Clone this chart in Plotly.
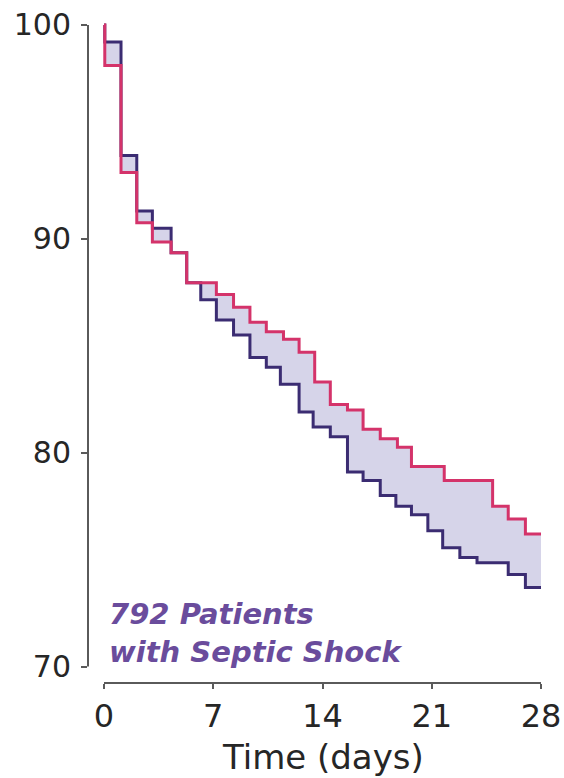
import plotly.graph_objects as go

# Kaplan-Meier style survival curves (percent alive)
blue_days = [0, 0.05, 1.09, 2.1, 3.1, 4.3, 5.3, 6.2, 7.2, 8.3, 9.35, 10.4, 11.3, 12.5,
             13.4, 14.5, 15.6, 16.6, 17.7, 18.7, 19.7, 20.75, 21.7, 22.8, 23.9, 25.9, 27.0, 28]
blue_surv = [100, 99.2, 93.9, 91.3, 90.5, 89.35, 87.95, 87.15, 86.2, 85.5, 84.45, 84.0, 83.2, 81.9,
             81.2, 80.75, 79.1, 78.7, 78.0, 77.5, 77.1, 76.35, 75.55, 75.1, 74.85, 74.3, 73.7, 73.7]

red_days = [0, 0.05, 1.09, 2.1, 3.1, 4.3, 5.3, 7.2, 8.3, 9.35, 10.4, 11.5, 12.5, 13.5,
            14.5, 15.6, 16.6, 17.7, 18.8, 19.7, 21.8, 24.9, 25.9, 27.0, 28]
red_surv = [100, 98.1, 93.1, 90.75, 89.85, 89.35, 87.95, 87.4, 86.8, 86.1, 85.65, 85.3, 84.7, 83.3,
            82.25, 82.0, 81.1, 80.65, 80.25, 79.35, 78.7, 77.5, 76.9, 76.2, 76.2]

x_ticks = [0, 7, 14, 21, 28]
y_ticks = [70, 80, 90, 100]
note_text = "792 Patients<br>with Septic Shock"
x_title = "Time (days)"

FONT = "DejaVu Sans, Liberation Sans, Arial, sans-serif"
AXIS_COLOR = "#5a5a5a"
TEXT_COLOR = "#262626"

fig = go.Figure()
fig.add_trace(go.Scatter(x=blue_days, y=blue_surv, mode="lines", line_shape="hv",
                         line=dict(color="#3b2c72", width=3), showlegend=False))
fig.add_trace(go.Scatter(x=red_days, y=red_surv, mode="lines", line_shape="hv",
                         line=dict(color="#d4336a", width=3), fill="tonexty",
                         fillcolor="#d6d4e9", showlegend=False))

fig.update_layout(
    width=564, height=778,
    margin=dict(l=88, r=18, t=22, b=95, autoexpand=False),
    paper_bgcolor="white", plot_bgcolor="white",
    font=dict(family=FONT, color=TEXT_COLOR),
    xaxis=dict(range=[-1.025, 28.32], tickvals=x_ticks, ticktext=[str(v) for v in x_ticks],
               showgrid=False, zeroline=False, showline=False, automargin=False,
               ticks="outside", ticklen=5, tickwidth=2, tickcolor=AXIS_COLOR,
               tickfont=dict(size=32, family=FONT, color=TEXT_COLOR)),
    yaxis=dict(range=[69.23, 100.14], tickvals=y_ticks, ticktext=[str(v) for v in y_ticks],
               showgrid=False, zeroline=False, showline=False, automargin=False,
               ticks="outside", ticklen=6, tickwidth=2, tickcolor=AXIS_COLOR,
               ticklabelstandoff=4,
               tickfont=dict(size=30, family=FONT, color=TEXT_COLOR)),
    shapes=[
        dict(type="line", xref="paper", yref="y", x0=0, x1=0, y0=70, y1=100,
             line=dict(color=AXIS_COLOR, width=2)),
        dict(type="line", xref="x", yref="paper", x0=0, x1=28, y0=0, y1=0,
             line=dict(color=AXIS_COLOR, width=2)),
    ],
    annotations=[
        dict(x=0.19, y=71.55, xref="x", yref="y", xanchor="left", yanchor="middle",
             text="<b><i>" + note_text.replace("<br>", "</i></b><br><b><i>") + "</i></b>",
             showarrow=False, align="left",
             font=dict(size=29, family=FONT, color="#6a4c9c")),
        dict(x=14, y=-0.112, xref="x", yref="paper", xanchor="center", yanchor="middle",
             text=x_title, showarrow=False,
             font=dict(size=34, family=FONT, color=TEXT_COLOR)),
    ],
)

fig.write_html("out.html", config={"displayModeBar": False},
               post_script="document.body.style.margin='0';document.body.style.overflow='hidden';")
